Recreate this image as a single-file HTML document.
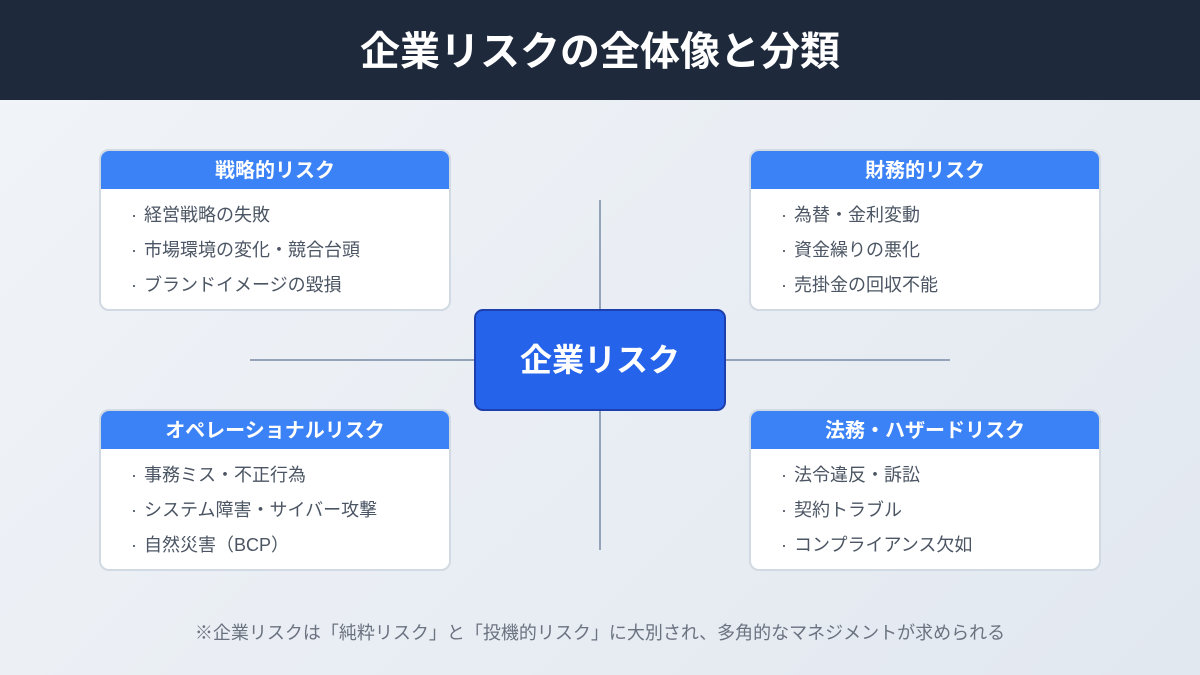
<!DOCTYPE html>
<html><head><meta charset="utf-8"><style>
*{margin:0;padding:0;box-sizing:border-box}
body{width:1200px;height:675px;overflow:hidden;position:relative;font-family:"Liberation Sans","Noto Sans CJK JP",sans-serif;background:linear-gradient(135deg,#f1f4f8,#e2e8f0)}
.hd{position:absolute;left:0;top:0;width:1200px;height:100px;background:#1e293b;color:#fff;font-size:40px;font-weight:bold;text-align:center;line-height:104px}
.ln{position:absolute;background:#94a3b8}
.box{position:absolute;width:352px;height:162px;background:#fff;border:2px solid #d1d9e3;border-radius:10px;overflow:hidden}
.box .t{height:39px;background:#3b82f6;color:#fff;font-size:20px;font-weight:bold;text-align:center;line-height:42px;margin:-1px -1px 0}
.box .i{font-size:18px;color:#4b5563;padding-left:30px;height:35px;line-height:35px}
.box .i b{font-weight:normal;display:inline-block;width:13px}
.box .t + .i{margin-top:9px}
.c{position:absolute;left:474px;top:309px;width:252px;height:102px;background:#2563eb;border:2px solid #1e40af;border-radius:9px;color:#fff;font-size:32px;font-weight:bold;text-align:center;line-height:98px}
.ft{position:absolute;left:0;width:1200px;top:619px;text-align:center;font-size:18px;color:#6b7280}
</style></head><body>
<div class="hd">企業リスクの全体像と分類</div>
<div class="ln" style="left:599px;top:200px;width:2px;height:350px"></div>
<div class="ln" style="left:250px;top:359px;width:700px;height:2px"></div>
<div class="box" style="left:99px;top:149px"><div class="t">戦略的リスク</div><div class="i"><b>·</b>経営戦略の失敗</div><div class="i"><b>·</b>市場環境の変化・競合台頭</div><div class="i"><b>·</b>ブランドイメージの毀損</div></div>
<div class="box" style="left:749px;top:149px"><div class="t">財務的リスク</div><div class="i"><b>·</b>為替・金利変動</div><div class="i"><b>·</b>資金繰りの悪化</div><div class="i"><b>·</b>売掛金の回収不能</div></div>
<div class="box" style="left:99px;top:409px"><div class="t">オペレーショナルリスク</div><div class="i"><b>·</b>事務ミス・不正行為</div><div class="i"><b>·</b>システム障害・サイバー攻撃</div><div class="i"><b>·</b>自然災害（BCP）</div></div>
<div class="box" style="left:749px;top:409px"><div class="t">法務・ハザードリスク</div><div class="i"><b>·</b>法令違反・訴訟</div><div class="i"><b>·</b>契約トラブル</div><div class="i"><b>·</b>コンプライアンス欠如</div></div>
<div class="c">企業リスク</div>
<div class="ft">※企業リスクは「純粋リスク」と「投機的リスク」に大別され、多角的なマネジメントが求められる</div>
</body></html>
